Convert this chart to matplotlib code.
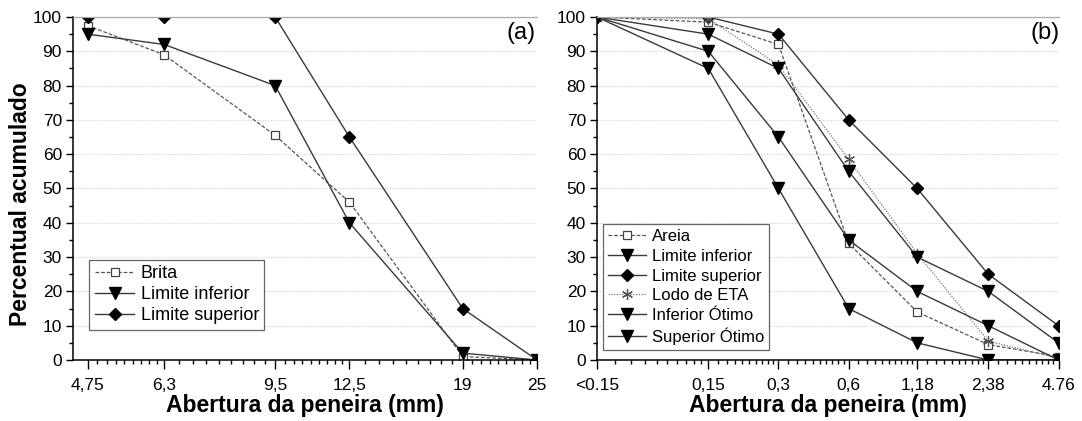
import numpy as np
import matplotlib
matplotlib.use("Agg")
import matplotlib.pyplot as plt
from matplotlib.ticker import FixedLocator, NullFormatter

plt.rcParams['font.family'] = ['Liberation Sans', 'DejaVu Sans']

# ---------------- data: panel (a) ----------------
a_x = [4.75, 6.3, 9.5, 12.5, 19, 25]
a_labels = ["4,75", "6,3", "9,5", "12,5", "19", "25"]
brita = [97.5, 89, 65.5, 46, 1, 0]
a_lim_inf = [95, 92, 80, 40, 2, 0]
a_lim_sup = [100, 100, 100, 65, 15, 0]

# ---------------- data: panel (b) ----------------
b_x = [0.05, 0.15, 0.3, 0.6, 1.18, 2.38, 4.76]
b_labels = ["<0.15", "0,15", "0,3", "0,6", "1,18", "2,38", "4.76"]
areia = [100, 98.5, 92, 34, 14, 4.5, 1]
b_lim_inf = [100, 85, 50, 15, 5, 0, 0]
b_lim_sup = [100, 100, 95, 70, 50, 25, 10]
lodo = [100, 99.5, 86, 58.5, 31, 5.5, 0.5]
inf_otimo = [100, 90, 65, 35, 20, 10, 0]
sup_otimo = [100, 95, 85, 55, 30, 20, 5]

LINE = '#3a3a3a'

fig = plt.figure(figsize=(10.82, 4.21), dpi=100)
ax1 = fig.add_axes([73/1082, 61/421, 464/1082, 343/421])
ax2 = fig.add_axes([597/1082, 61/421, 461.5/1082, 343/421])


def minor_positions(majors, n):
    out = []
    for lo, hi in zip(majors[:-1], majors[1:]):
        out.extend(np.linspace(lo, hi, n + 2)[1:-1])
    return out


def style_axes(ax, majors, labels, nminor, xlim):
    ax.set_xscale('log')
    ax.set_xlim(*xlim)
    ax.set_ylim(0, 100)
    ax.xaxis.set_major_locator(FixedLocator(majors))
    ax.set_xticklabels(labels)
    ax.xaxis.set_minor_locator(FixedLocator(minor_positions(majors, nminor)))
    ax.xaxis.set_minor_formatter(NullFormatter())
    ax.yaxis.set_major_locator(FixedLocator(np.arange(0, 101, 10)))
    ax.yaxis.set_minor_locator(FixedLocator(np.arange(5, 100, 10)))
    ax.tick_params(axis='both', which='major', direction='out', length=5,
                   width=1, labelsize=12.5, colors='black')
    ax.tick_params(axis='x', which='major', length=6.5, pad=6.5)
    ax.tick_params(axis='both', which='minor', direction='out', length=3, width=1)
    ax.tick_params(axis='y', which='major', pad=3)
    ax.yaxis.grid(True, which='major', color='#cfcfcf', linestyle=(0, (1, 1.5)),
                  linewidth=0.8)
    ax.set_axisbelow(True)
    ax.spines['right'].set_visible(False)
    ax.spines['top'].set_color('#a8a8a8')
    ax.spines['top'].set_linewidth(0.9)
    ax.spines['left'].set_linewidth(1.1)
    ax.spines['bottom'].set_linewidth(1.1)
    ax.set_xlabel('Abertura da peneira (mm)', fontsize=16.5, fontweight='bold',
                  labelpad=1)


style_axes(ax1, a_x, a_labels, 8, (4.5, 25))
style_axes(ax2, b_x, b_labels, 9, (0.05, 4.76))
ax1.set_ylabel('Percentual acumulado', fontsize=16.5, fontweight='bold')
ax1.yaxis.set_label_coords(-0.088, 0.455)

# ---------------- panel (a) ----------------
ax1.plot(a_x, brita, color='#555555', lw=0.9, ls=(0, (3, 1.5)), marker='s', ms=5.5,
         mfc='white', mec='#444444', mew=0.9, label='Brita')
ax1.plot(a_x, a_lim_inf, color=LINE, lw=1.0, marker='v', ms=8.5, mfc='black',
         mec='black', label='Limite inferior')
ax1.plot(a_x, a_lim_sup, color=LINE, lw=1.0, marker='D', ms=5.8, mfc='black',
         mec='black', label='Limite superior')
ax1.text(0.997, 0.953, '(a)', transform=ax1.transAxes, ha='right', va='center',
         fontsize=17)
leg1 = ax1.legend(loc='lower left', bbox_to_anchor=(0.035, 0.088), fontsize=13,
                  handlelength=2.2, handletextpad=0.35, labelspacing=0.22,
                  borderpad=0.3, borderaxespad=0, fancybox=False, framealpha=1)
leg1.get_frame().set_edgecolor('#666666')
leg1.get_frame().set_linewidth(0.9)

# ---------------- panel (b) ----------------
ax2.plot(b_x, areia, color='#555555', lw=0.9, ls=(0, (3, 1.5)), marker='s', ms=5.5,
         mfc='white', mec='#444444', mew=0.9, label='Areia')
ax2.plot(b_x, b_lim_inf, color=LINE, lw=1.0, marker='v', ms=8.5, mfc='black',
         mec='black', label='Limite inferior')
ax2.plot(b_x, b_lim_sup, color=LINE, lw=1.0, marker='D', ms=5.8, mfc='black',
         mec='black', label='Limite superior')
ax2.plot(b_x, lodo, color='#777777', lw=0.9, ls=(0, (1, 1.2)), marker=(6, 2, 0),
         ms=8, mec='#555555', mew=0.9, label='Lodo de ETA')
ax2.plot(b_x, inf_otimo, color=LINE, lw=1.0, marker='v', ms=8.5, mfc='black',
         mec='black', label='Inferior Ótimo')
ax2.plot(b_x, sup_otimo, color=LINE, lw=1.0, marker='v', ms=8.5, mfc='black',
         mec='black', label='Superior Ótimo')
ax2.text(1.003, 0.953, '(b)', transform=ax2.transAxes, ha='right', va='center',
         fontsize=17)
leg2 = ax2.legend(loc='lower left', bbox_to_anchor=(0.012, 0.029), fontsize=12,
                  handlelength=2.3, handletextpad=0.35, labelspacing=0.28,
                  borderpad=0.3, borderaxespad=0, fancybox=False, framealpha=1)
leg2.get_frame().set_edgecolor('#666666')
leg2.get_frame().set_linewidth(0.9)

fig.savefig('out.png', dpi=100)
